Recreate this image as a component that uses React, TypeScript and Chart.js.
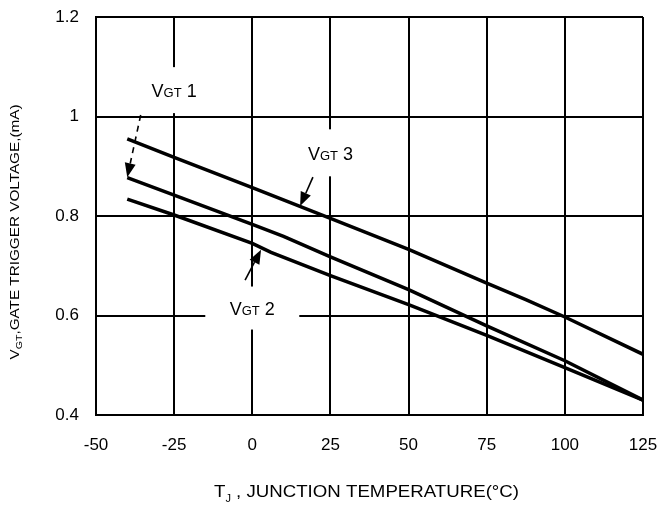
import React, { useEffect, useRef } from "react";
import { Chart, registerables } from "chart.js";

Chart.register(...registerables);

// Axis ticks
const xTicks = [-50, -25, 0, 25, 50, 75, 100, 125];
const yTicks = [0.4, 0.6, 0.8, 1.0, 1.2];
const yTickLabels = ["0.4", "0.6", "0.8", "1", "1.2"];

// Series (T_J in °C, V_GT)
const temps1 = [-40, -25, 0, 10, 25, 50, 75, 100, 125];
const vgt1 = [0.877, 0.842, 0.783, 0.759, 0.718, 0.652, 0.579, 0.509, 0.43];

const temps2 = [-40, -25, 0, 6, 25, 50, 75, 100, 125];
const vgt2 = [0.834, 0.802, 0.745, 0.727, 0.68, 0.622, 0.56, 0.495, 0.43];

const temps3 = [-40, -25, 0, 25, 50, 75, 87.5, 100, 125];
const vgt3 = [0.955, 0.918, 0.857, 0.795, 0.733, 0.665, 0.632, 0.597, 0.522];

// Annotation labels (data coordinates)
const labelNames = ["1", "3", "2"];
const labelT = [-25, 25, 0];
const labelV = [1.053, 0.927, 0.615];
const labelBoxW = [56, 62, 94];
const labelBoxH = [46, 47, 43];

// Annotation arrows (data coordinates): tail -> tip
const arrowFromT = [-35.7, 19.4, -2.3];
const arrowFromV = [1.003, 0.878, 0.671];
const arrowToT = [-40, 15.3, 2.8];
const arrowToV = [0.878, 0.82, 0.732];
const arrowDashed = [true, false, false];

const FONT = "'Liberation Sans', Arial, Helvetica, sans-serif";

type Part = { text: string; size: number; dy?: number };

function drawRich(
  ctx: CanvasRenderingContext2D,
  parts: Part[],
  cx: number,
  baseline: number,
  targetWidth?: number
) {
  let total = 0;
  const widths: number[] = [];
  for (const p of parts) {
    ctx.font = `${p.size}px ${FONT}`;
    const w = ctx.measureText(p.text).width;
    widths.push(w);
    total += w;
  }
  const sx = targetWidth ? targetWidth / total : 1;
  ctx.save();
  ctx.translate(cx - (total * sx) / 2, baseline);
  ctx.scale(sx, 1);
  ctx.fillStyle = "#000";
  ctx.textBaseline = "alphabetic";
  ctx.textAlign = "left";
  let x = 0;
  parts.forEach((p, i) => {
    ctx.font = `${p.size}px ${FONT}`;
    ctx.fillText(p.text, x, p.dy || 0);
    x += widths[i];
  });
  ctx.restore();
}

function arrowHead(ctx: CanvasRenderingContext2D, x0: number, y0: number, x1: number, y1: number) {
  const ang = Math.atan2(y1 - y0, x1 - x0);
  const len = 14;
  const half = 5.5;
  const bx = x1 - Math.cos(ang) * len;
  const by = y1 - Math.sin(ang) * len;
  ctx.beginPath();
  ctx.moveTo(x1, y1);
  ctx.lineTo(bx + Math.sin(ang) * half, by - Math.cos(ang) * half);
  ctx.lineTo(bx - Math.sin(ang) * half, by + Math.cos(ang) * half);
  ctx.closePath();
  ctx.fillStyle = "#000";
  ctx.fill();
  return { bx, by };
}

const annotationPlugin = {
  id: "annotations",
  beforeDatasetsDraw(chart: any) {
    const { ctx, scales } = chart;
    const xs = scales.x;
    const ys = scales.y;
    labelNames.forEach((name, i) => {
      const cx = xs.getPixelForValue(labelT[i]);
      const cy = ys.getPixelForValue(labelV[i]);
      ctx.save();
      ctx.fillStyle = "#fff";
      ctx.fillRect(cx - labelBoxW[i] / 2, cy - labelBoxH[i] / 2, labelBoxW[i], labelBoxH[i]);
      ctx.restore();
      drawRich(
        ctx,
        [
          { text: "V", size: 18 },
          { text: "GT", size: 13 },
          { text: " " + name, size: 18 },
        ],
        cx,
        cy + 7
      );
    });
  },
  afterDatasetsDraw(chart: any) {
    const { ctx, scales } = chart;
    const xs = scales.x;
    const ys = scales.y;
    arrowFromT.forEach((_, i) => {
      const x0 = xs.getPixelForValue(arrowFromT[i]);
      const y0 = ys.getPixelForValue(arrowFromV[i]);
      const x1 = xs.getPixelForValue(arrowToT[i]);
      const y1 = ys.getPixelForValue(arrowToV[i]);
      ctx.save();
      const { bx, by } = arrowHead(ctx, x0, y0, x1, y1);
      ctx.beginPath();
      ctx.strokeStyle = "#000";
      ctx.lineWidth = 1.6;
      if (arrowDashed[i]) ctx.setLineDash([6, 5]);
      ctx.moveTo(x0, y0);
      ctx.lineTo(bx, by);
      ctx.stroke();
      ctx.restore();
    });
  },
  afterDraw(chart: any) {
    const { ctx, chartArea } = chart;
    // X axis title
    drawRich(
      ctx,
      [
        { text: "T", size: 17 },
        { text: "J", size: 10, dy: 5 },
        { text: " , JUNCTION TEMPERATURE(°C)", size: 17 },
      ],
      (chartArea.left + chartArea.right) / 2 - 3,
      497,
      305
    );
    // Y axis title
    ctx.save();
    ctx.translate(19, 232);
    ctx.rotate(-Math.PI / 2);
    drawRich(
      ctx,
      [
        { text: "V", size: 13 },
        { text: "GT", size: 9, dy: 3 },
        { text: ",GATE TRIGGER VOLTAGE,(mA)", size: 13 },
      ],
      0,
      0,
      255
    );
    ctx.restore();
  },
};

export default function App() {
  const ref = useRef<HTMLCanvasElement | null>(null);

  useEffect(() => {
    if (!ref.current) return;
    const mk = (xs: number[], ys: number[]) => xs.map((x, i) => ({ x, y: ys[i] }));
    const ds = (label: string, data: any) => ({
      label,
      data,
      borderColor: "#000",
      borderWidth: 3.5,
      pointRadius: 0,
      tension: 0,
      fill: false,
    });
    const chart = new Chart(ref.current, {
      type: "line",
      data: {
        datasets: [
          ds("VGT 1", mk(temps1, vgt1)),
          ds("VGT 2", mk(temps2, vgt2)),
          ds("VGT 3", mk(temps3, vgt3)),
        ],
      },
      options: {
        animation: false,
        responsive: true,
        maintainAspectRatio: false,
        layout: { padding: { top: 17, right: 19, left: 0, bottom: 0 } },
        plugins: { legend: { display: false }, tooltip: { enabled: false } },
        scales: {
          x: {
            type: "linear",
            min: -50,
            max: 125,
            afterBuildTicks: (s: any) => {
              s.ticks = xTicks.map((v) => ({ value: v }));
            },
            afterFit: (s: any) => {
              s.height = 100;
            },
            grid: {
              color: "#000",
              lineWidth: 2,
              drawTicks: true,
              tickLength: 20,
              tickColor: "rgba(0,0,0,0)",
            },
            border: { display: true, color: "#000", width: 2 },
            ticks: {
              color: "#000",
              padding: 0,
              maxRotation: 0,
              font: { family: FONT, size: 17 },
              callback: (v: any) => String(v),
            },
          },
          y: {
            type: "linear",
            min: 0.4,
            max: 1.2,
            afterBuildTicks: (s: any) => {
              s.ticks = yTicks.map((v) => ({ value: v }));
            },
            afterFit: (s: any) => {
              s.width = 96;
            },
            grid: {
              color: "#000",
              lineWidth: 2,
              drawTicks: true,
              tickLength: 17,
              tickColor: "rgba(0,0,0,0)",
            },
            border: { display: true, color: "#000", width: 2 },
            ticks: {
              color: "#000",
              padding: 0,
              font: { family: FONT, size: 17 },
              callback: (v: any) => {
                const i = yTicks.findIndex((t) => Math.abs(t - v) < 1e-6);
                return i >= 0 ? yTickLabels[i] : "";
              },
            },
          },
        },
      },
      plugins: [annotationPlugin],
    });
    return () => chart.destroy();
  }, []);

  return (
    <div style={{ position: "fixed", left: 0, top: 0, width: 662, height: 515, background: "#fff" }}>
      <canvas ref={ref} />
    </div>
  );
}
